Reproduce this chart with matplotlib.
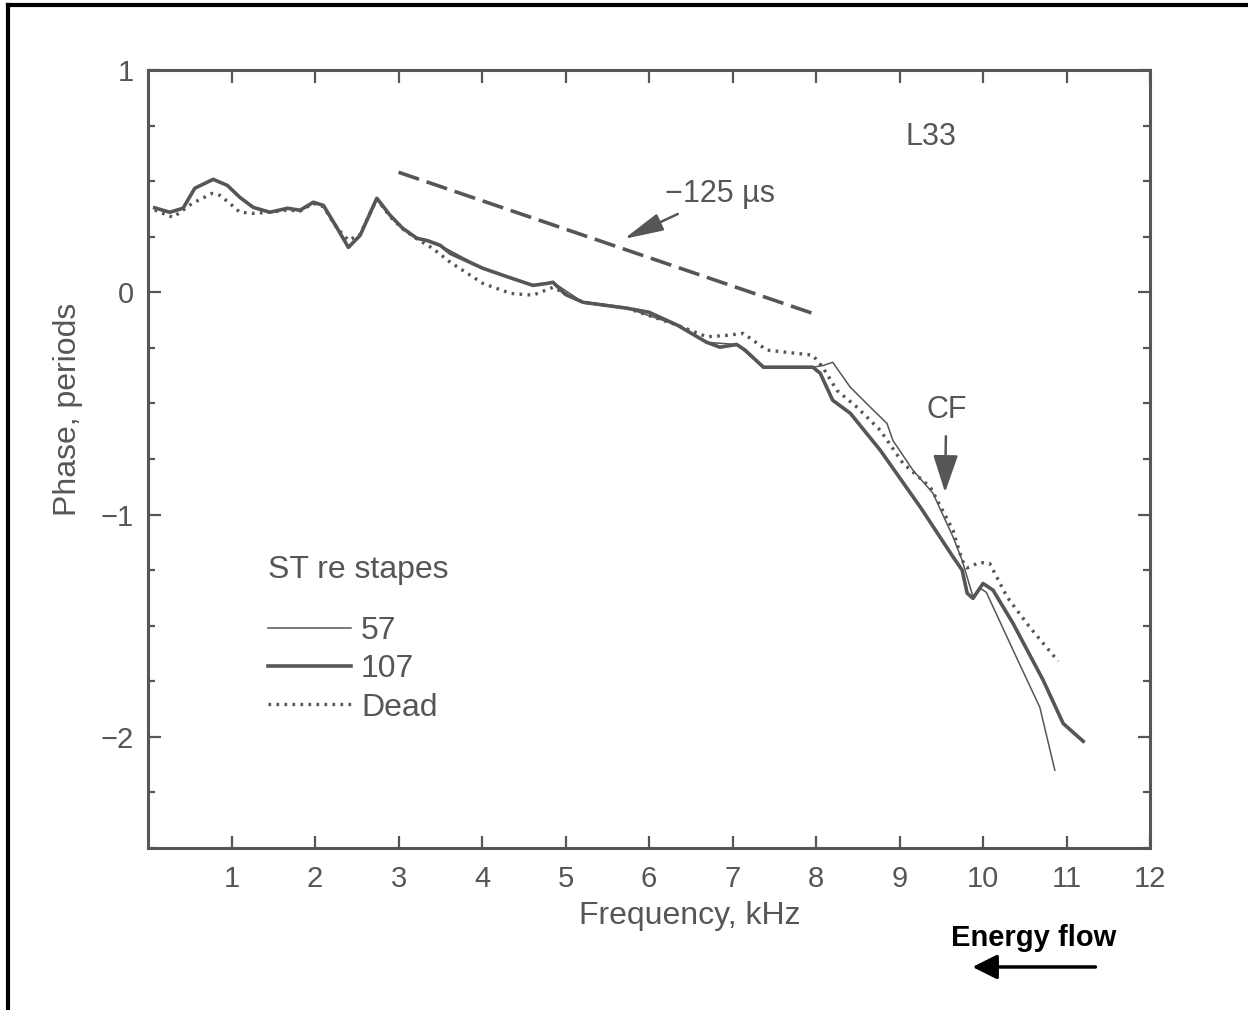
import matplotlib
matplotlib.use("Agg")
import matplotlib.pyplot as plt
from matplotlib.lines import Line2D
from matplotlib.patches import FancyArrowPatch
from matplotlib.ticker import MultipleLocator

# phase re stapes, periods, vs frequency, kHz
freq_107 = [0.08, 0.26, 0.42, 0.56, 0.78, 0.95, 1.10, 1.26, 1.46, 1.67, 1.82,
            1.98, 2.10, 2.26, 2.40, 2.54, 2.74, 2.90, 3.05, 3.22, 3.35, 3.50,
            3.62, 4.01, 4.30, 4.61, 4.78, 4.85, 5.00, 5.21, 5.74, 6.00, 6.34,
            6.69, 6.85, 7.05, 7.15, 7.37, 7.96, 8.05, 8.20, 8.41, 8.77, 9.25,
            9.64, 9.75, 9.81, 9.88, 10.0, 10.12, 10.36, 10.72, 10.96, 11.2]
phase_107 = [0.38, 0.36, 0.378, 0.468, 0.508, 0.481, 0.427, 0.382, 0.36, 0.378,
             0.369, 0.405, 0.391, 0.292, 0.202, 0.256, 0.423, 0.346, 0.288,
             0.243, 0.232, 0.211, 0.175, 0.108, 0.07, 0.031, 0.04, 0.045,
             -0.01, -0.045, -0.072, -0.09, -0.148, -0.225, -0.247, -0.235,
             -0.26, -0.337, -0.337, -0.364, -0.486, -0.544, -0.711, -0.967,
             -1.19, -1.25, -1.354, -1.377, -1.31, -1.34, -1.49, -1.745, -1.94,
             -2.02]

freq_57 = [0.08, 0.26, 0.42, 0.56, 0.78, 0.95, 1.10, 1.26, 1.46, 1.67, 1.82,
           1.98, 2.10, 2.26, 2.40, 2.54, 2.74, 2.90, 3.05, 3.22, 3.50, 4.01,
           4.61, 4.85, 5.21, 5.74, 6.34, 6.69, 7.05, 7.37, 7.96, 8.08, 8.20,
           8.41, 8.65, 8.85, 8.92, 9.16, 9.40, 9.64, 9.75, 9.88, 9.96, 10.04,
           10.36, 10.68, 10.86]
phase_57 = [0.38, 0.36, 0.378, 0.468, 0.508, 0.481, 0.427, 0.382, 0.36, 0.378,
            0.369, 0.405, 0.391, 0.292, 0.202, 0.256, 0.423, 0.346, 0.288,
            0.243, 0.211, 0.108, 0.031, 0.045, -0.045, -0.072, -0.148, -0.225,
            -0.235, -0.337, -0.337, -0.33, -0.315, -0.427, -0.517, -0.59,
            -0.666, -0.80, -0.904, -1.10, -1.206, -1.37, -1.33, -1.35, -1.61,
            -1.867, -2.15]

freq_dead = [0.08, 0.30, 0.53, 0.77, 0.86, 0.98, 1.10, 1.26, 1.46, 1.67, 1.82,
             1.98, 2.10, 2.26, 2.40, 2.54, 2.74, 2.90, 3.05, 3.22, 3.40, 3.62,
             4.01, 4.34, 4.61, 4.85, 5.21, 5.74, 6.34, 6.69, 6.90, 7.13, 7.41,
             7.96, 8.08, 8.25, 8.49, 8.77, 9.04, 9.37, 9.64, 9.75, 9.81, 9.96,
             10.08, 10.29, 10.56, 10.9]
phase_dead = [0.37, 0.337, 0.40, 0.445, 0.436, 0.40, 0.36, 0.355, 0.36, 0.37,
              0.365, 0.40, 0.385, 0.29, 0.234, 0.26, 0.42, 0.34, 0.285, 0.24,
              0.20, 0.135, 0.04, -0.005, -0.013, 0.022, -0.045, -0.072, -0.148,
              -0.20, -0.195, -0.185, -0.26, -0.283, -0.337, -0.441, -0.517,
              -0.621, -0.769, -0.877, -1.07, -1.206, -1.24, -1.215, -1.22,
              -1.372, -1.507, -1.66]

# -125 us slope reference line
slope_freq = [3.0, 8.0]
slope_phase = [0.54, -0.10]

xticks = list(range(1, 13))
yticks = [-2, -1, 0, 1]
ytick_labels = ["\u22122", "\u22121", "0", "1"]

GRAY = "#565656"
plt.rcParams["font.family"] = ["Liberation Sans", "DejaVu Sans"]

fig = plt.figure(figsize=(12.48, 10.10), dpi=100, facecolor="white")
ax = fig.add_axes([0.1186, 0.1604, 0.8029, 0.7703])

ax.plot(freq_57, phase_57, color=GRAY, lw=1.1, label="57")
ax.plot(freq_107, phase_107, color=GRAY, lw=2.6, label="107")
ax.plot(freq_dead, phase_dead, color=GRAY, lw=2.4, ls=(0, (0.8, 1.6)),
        label="Dead")
ax.plot(slope_freq, slope_phase, color=GRAY, lw=2.6, ls=(0, (6, 2.2)))

ax.set_xlim(0, 12)
ax.set_ylim(-2.5, 1)
ax.set_xticks(xticks)
ax.set_yticks(yticks)
ax.set_yticklabels(ytick_labels)
ax.yaxis.set_minor_locator(MultipleLocator(0.25))
ax.tick_params(which="both", direction="in", top=True, right=True,
               colors=GRAY, labelcolor=GRAY, width=1.6)
ax.tick_params(which="major", length=9, labelsize=21)
ax.tick_params(which="minor", length=5)
ax.tick_params(axis="x", pad=12)
ax.tick_params(axis="y", pad=10)
for s in ax.spines.values():
    s.set_color(GRAY)
    s.set_linewidth(2.2)

ax.set_xlabel("Frequency, kHz", fontsize=23, color=GRAY)
ax.set_ylabel("Phase, periods", fontsize=23, color=GRAY)
ax.xaxis.set_label_coords(0.541, -0.068)
ax.yaxis.set_label_coords(-0.065, 0.564)

ax.text(9.38, 0.70, "L33", fontsize=22, color=GRAY, ha="center", va="center")
ax.annotate("\u2212125 \u00b5s", xy=(5.70, 0.24), xytext=(6.85, 0.44),
            fontsize=22, color=GRAY, ha="center", va="center",
            arrowprops=dict(arrowstyle="-|>,head_length=1.1,head_width=0.25",
                            color=GRAY, lw=1.8, shrinkA=3, shrinkB=0))
ax.annotate("CF", xy=(9.545, -0.90), xytext=(9.56, -0.53),
            fontsize=22, color=GRAY, ha="center", va="center",
            arrowprops=dict(arrowstyle="-|>,head_length=1.05,head_width=0.35",
                            color=GRAY, lw=1.8, shrinkA=6, shrinkB=0))

leg = ax.legend(title="ST re stapes", loc="upper left",
                bbox_to_anchor=(0.12, 0.376), frameon=False, fontsize=23,
                title_fontsize=23, handlelength=2.6, handletextpad=0.3,
                labelspacing=0.26, borderpad=0, borderaxespad=0,
                alignment="left", labelcolor=GRAY)
leg.get_title().set_color(GRAY)
leg._legend_box.sep = 22

fig.text(0.828, 0.071, "Energy flow", fontsize=21, fontweight="bold",
         color="black", ha="center", va="center")
fig.add_artist(FancyArrowPatch(
    (0.880, 0.0426), (0.777, 0.0426), transform=fig.transFigure,
    arrowstyle="-|>,head_length=10,head_width=5", color="black", lw=2.5,
    mutation_scale=1.5))

# scanned page frame (top and left edges)
fig.add_artist(Line2D([0.0065, 1.0], [0.995, 0.995], transform=fig.transFigure,
                      color="black", lw=3))
fig.add_artist(Line2D([0.0065, 0.0065], [0.0, 0.995], transform=fig.transFigure,
                      color="black", lw=3))

fig.savefig("out.png", dpi=100)
